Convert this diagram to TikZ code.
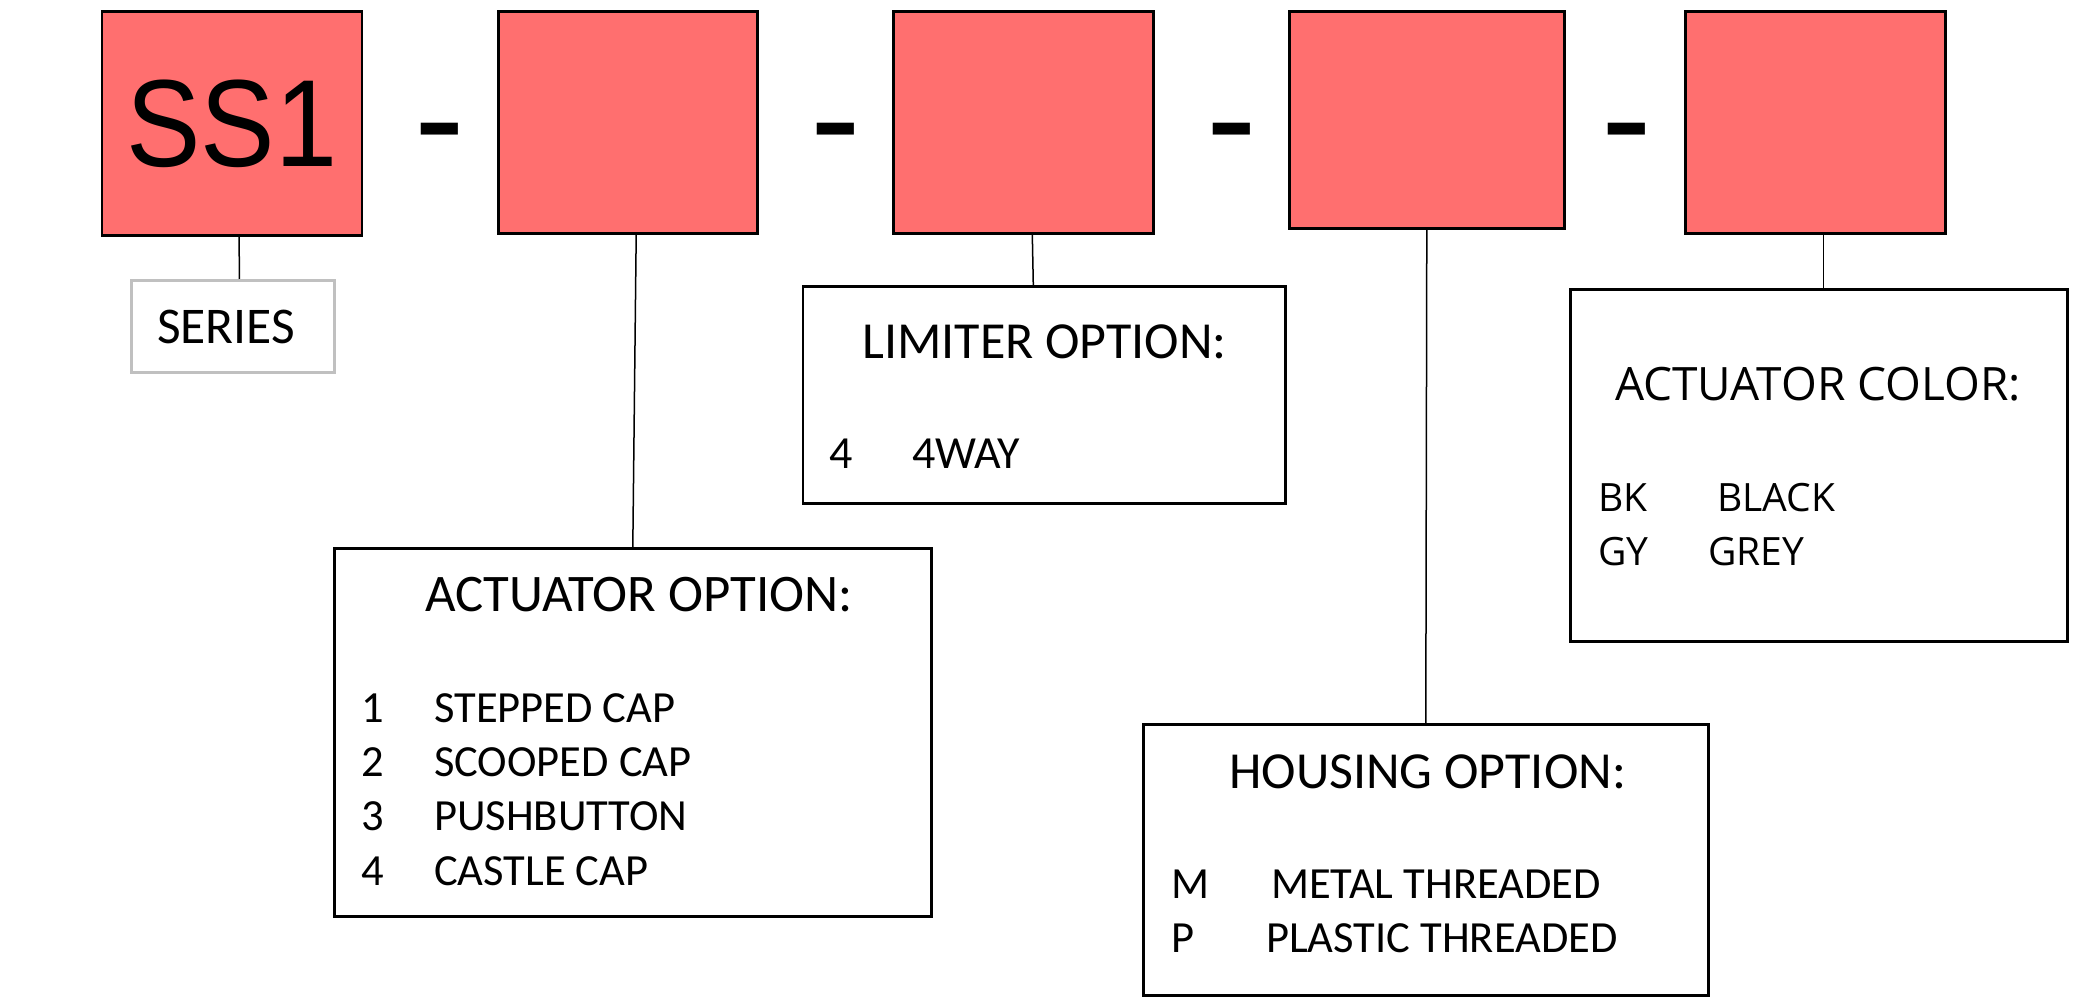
\documentclass[tikz,border=0pt]{standalone}
\usepackage{fontspec}
\newfontfamily\arialf{Liberation Sans}
\newfontfamily\calf{Carlito}
\newfontfamily\osf{Open Sans}
\definecolor{boxred}{RGB}{255,111,111}
\definecolor{sergray}{RGB}{192,192,192}
\begin{document}
\begin{tikzpicture}[x=1pt,y=-1pt,
  redbox/.style={draw=black, fill=boxred, line width=2.6pt, rectangle, inner sep=0pt, anchor=north west},
  obox/.style={draw=black, line width=2.6pt, rectangle, inner sep=0pt, anchor=north west},
  sbox/.style={draw=sergray, line width=2.6pt, rectangle, inner sep=0pt, anchor=north west},
  conn/.style={draw=black, line width=1.5pt},
  dashtxt/.style={inner sep=0pt, anchor=base, font=\arialf\fontsize{152}{160}\selectfont},
  ttl/.style={inner sep=0pt, anchor=base west, font=\calf\fontsize{52}{60}\selectfont},
  itm/.style={inner sep=0pt, anchor=base west, font=\calf\fontsize{44.5}{50}\selectfont},
  ottl/.style={inner sep=0pt, anchor=base west, font=\osf\fontsize{46}{54}\selectfont},
  oitm/.style={inner sep=0pt, anchor=base west, font=\osf\fontsize{39}{46}\selectfont}
]
\useasboundingbox[fill=white] (0,0) rectangle (2085,1000);

% red code boxes
\node[redbox, minimum width=260pt, minimum height=224pt] (ss1) at (100.5,10) {};
\node[redbox, minimum width=259pt, minimum height=222pt] (b2) at (497.4,10) {};
\node[redbox, minimum width=260pt, minimum height=222pt] (b3) at (892,10) {};
\node[redbox, minimum width=275pt, minimum height=217pt] (b4) at (1288,10) {};
\node[redbox, minimum width=260pt, minimum height=222pt] (b5) at (1684,10) {};

\node[inner sep=0pt, anchor=base, font=\arialf\fontsize{124}{130}\selectfont] (ss1t) at (232,166.5) {\scalebox{0.9}[1]{SS1}};

% dashes
\node[dashtxt] (d1) at (440,170) {-};
\node[dashtxt] (d2) at (835.5,170) {-};
\node[dashtxt] (d3) at (1231.5,170) {-};
\node[dashtxt] (d4) at (1627,170) {-};

% option boxes
\node[sbox, minimum width=203pt, minimum height=92pt] (ser) at (130,279) {};
\node[obox, minimum width=597pt, minimum height=368pt] (act) at (333,547) {};
\node[obox, minimum width=482.5pt, minimum height=217pt] (lim) at (801.5,285) {};
\node[obox, minimum width=565pt, minimum height=271pt] (hous) at (1142,723) {};
\node[obox, minimum width=497pt, minimum height=352pt] (col) at (1569,288) {};

% texts
\node[inner sep=0pt, anchor=base west, font=\calf\fontsize{51.5}{58}\selectfont] (sert) at (157,343) {SERIES};

\node[ttl, font=\calf\fontsize{52.8}{60}\selectfont] (actt) at (425,611) {ACTUATOR OPTION:};
\node[itm] (a1n) at (361.6,722) {1};
\node[itm] (a1t) at (434,722) {STEPPED CAP};
\node[itm] (a2n) at (361.6,776) {2};
\node[itm] (a2t) at (434,776) {SCOOPED CAP};
\node[itm] (a3n) at (361.6,830) {3};
\node[itm] (a3t) at (434,830) {PUSHBUTTON};
\node[itm] (a4n) at (361.6,885) {4};
\node[itm] (a4t) at (434,885) {CASTLE CAP};

\node[ttl] (limt) at (862,358) {LIMITER OPTION:};
\node[itm, font=\calf\fontsize{46}{52}\selectfont] (l1n) at (829,468) {4};
\node[itm, font=\calf\fontsize{46}{52}\selectfont] (l1t) at (912,468) {4WAY};

\node[ttl] (houst) at (1229,788) {HOUSING OPTION:};
\node[itm] (h1n) at (1171,898) {M};
\node[itm] (h1t) at (1271,898) {METAL THREADED};
\node[itm] (h2n) at (1171,952) {P};
\node[itm] (h2t) at (1266,952) {PLASTIC THREADED};

\node[ottl] (colt) at (1615,400) {ACTUATOR COLOR:};
\node[oitm] (c1n) at (1598,511) {BK};
\node[oitm] (c1t) at (1717,511) {BLACK};
\node[oitm] (c2n) at (1598,565) {GY};
\node[oitm] (c2t) at (1708,565) {GREY};

% connectors
\draw[conn] ([xshift=7.4pt]ss1.south) -- ([xshift=6.5pt]ser.north);
\draw[conn] ([xshift=8pt]b2.south) -- (act.north);
\draw[conn] ([xshift=9pt]b3.south) -- ([xshift=-10.75pt]lim.north);
\draw[conn] (b4.south) -- (hous.north);
\draw[conn] ([xshift=8pt]b5.south) -- ([xshift=4.5pt]col.north);
\end{tikzpicture}
\end{document}
